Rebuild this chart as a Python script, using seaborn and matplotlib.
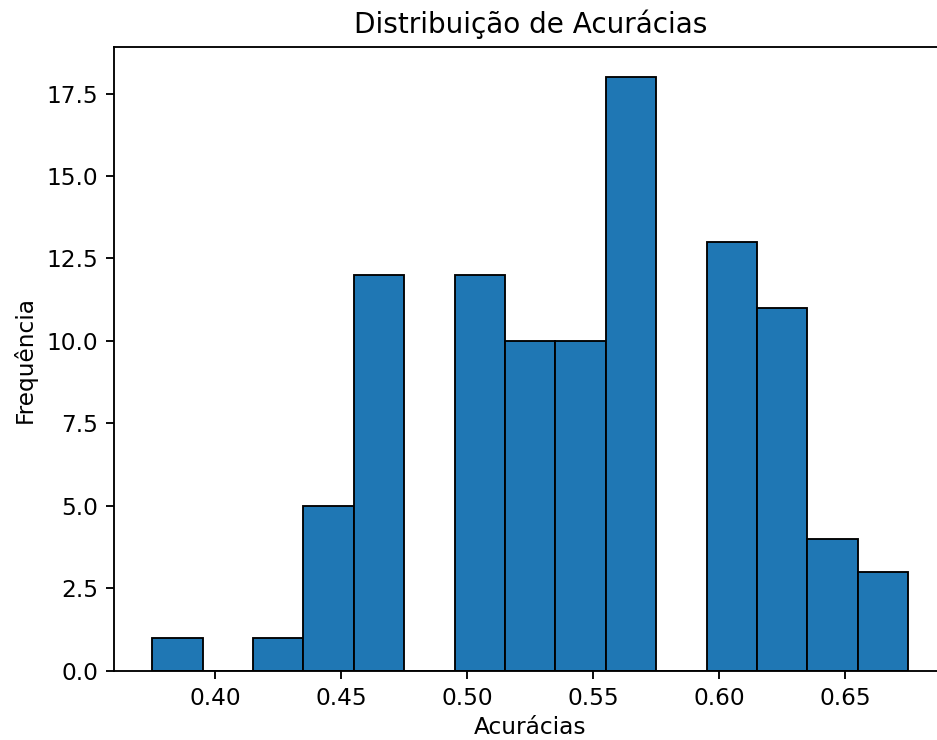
import numpy as np
import matplotlib
matplotlib.use("Agg")
import matplotlib.pyplot as plt
import seaborn as sns

# accuracy values (bin centres) and how many runs landed on each
acuracias = [0.385, 0.425, 0.445, 0.465, 0.505, 0.525, 0.545, 0.565, 0.605, 0.625, 0.645, 0.665]
contagens = [1, 1, 5, 12, 12, 10, 10, 18, 13, 11, 4, 3]

DPI = 167
fig, ax = plt.subplots(figsize=(938 / DPI, 740 / DPI), dpi=DPI)
sns.histplot(x=acuracias, weights=contagens, binwidth=0.02, binrange=(0.375, 0.675),
             color='#1f77b4', alpha=1, edgecolor='black', linewidth=0.8, ax=ax)
ax.set_title('Distribuição de Acurácias')
ax.set_xlabel('Acurácias', labelpad=2.5)
ax.set_ylabel('Frequência')
ax.margins(x=0.05)
# the reference is cropped a little past the right spine
plt.subplots_adjust(left=0.122, right=1.0085, bottom=0.0935, top=0.936)
plt.savefig('out.png', dpi=DPI)
